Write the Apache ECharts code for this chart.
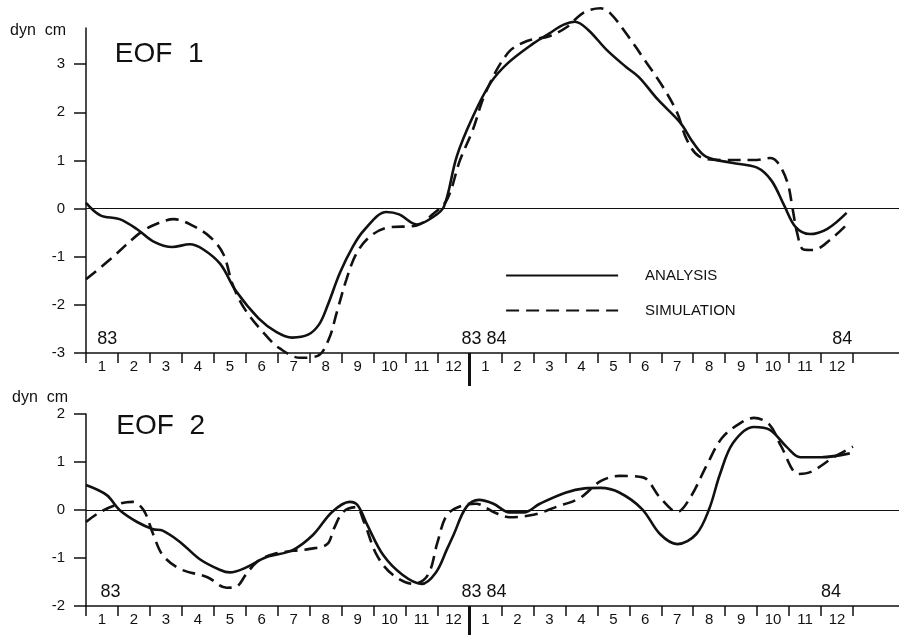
<!DOCTYPE html>
<html>
<head>
<meta charset="utf-8">
<script src="https://cdn.jsdelivr.net/npm/echarts@6/dist/echarts.min.js"></script>
<style>
html,body{margin:0;padding:0;background:#fff;}
#chart{width:899px;height:635px;}
</style>
</head>
<body>
<div id="chart"></div>
<script>
// ---- data (x = months since Jan 1983, y = dyn cm) ----
var monthLabels = ['1','2','3','4','5','6','7','8','9','10','11','12','1','2','3','4','5','6','7','8','9','10','11','12'];
var yearLabelsLeft = '83';
var yearLabelsMid = '83 84';
var yearLabelsRight = '84';
var eof1Ticks = [-3, -2, -1, 0, 1, 2, 3];
var eof2Ticks = [-2, -1, 0, 1, 2];
var seriesNames = ['ANALYSIS', 'SIMULATION'];

var eof1Analysis = [[0,0.12],[0.45,-0.14],[1.05,-0.22],[1.6,-0.43],[2.1,-0.68],[2.7,-0.8],[3.25,-0.74],[3.65,-0.84],[4.2,-1.15],[4.7,-1.72],[5.4,-2.28],[5.95,-2.56],[6.45,-2.68],[6.95,-2.62],[7.3,-2.4],[7.55,-2.03],[7.95,-1.33],[8.35,-0.79],[8.7,-0.45],[9.4,-0.07],[9.8,-0.12],[10.35,-0.33],[10.85,-0.18],[11.2,0.04],[11.6,1.08],[12.1,1.9],[12.65,2.6],[13.2,3.02],[14.0,3.43],[14.5,3.64],[14.95,3.82],[15.3,3.88],[15.7,3.72],[16.3,3.29],[16.9,2.94],[17.3,2.73],[17.9,2.26],[18.6,1.78],[19.0,1.37],[19.4,1.08],[20.2,0.95],[21.0,0.85],[21.45,0.58],[21.85,0.06],[22.2,-0.38],[22.65,-0.53],[23.2,-0.42],[23.8,-0.09]];
var eof1Simulation = [[0,-1.47],[0.75,-1.06],[1.7,-0.5],[2.2,-0.32],[2.75,-0.22],[3.35,-0.36],[3.9,-0.6],[4.3,-0.95],[4.6,-1.6],[5.0,-2.12],[5.65,-2.65],[6.05,-2.9],[6.7,-3.1],[7.25,-3.06],[7.6,-2.71],[7.85,-2.15],[8.15,-1.47],[8.45,-0.95],[8.85,-0.6],[9.4,-0.4],[10.35,-0.35],[10.85,-0.12],[11.3,0.19],[11.7,1.0],[12.1,1.63],[12.5,2.4],[13.2,3.23],[13.8,3.48],[14.5,3.58],[15.05,3.77],[15.55,4.06],[16.1,4.16],[16.4,4.06],[16.9,3.64],[17.55,3.02],[18.05,2.53],[18.5,1.99],[18.8,1.43],[19.2,1.08],[19.9,1.01],[21.0,1.01],[21.4,1.05],[21.65,0.95],[21.95,0.54],[22.1,0.04],[22.25,-0.5],[22.45,-0.85],[22.75,-0.86],[23.3,-0.64],[23.9,-0.27]];
var eof2Analysis = [[0,0.52],[0.65,0.31],[1.05,0.0],[1.6,-0.25],[2.1,-0.4],[2.4,-0.43],[2.95,-0.67],[3.55,-1.02],[4.2,-1.25],[4.5,-1.3],[5.0,-1.2],[5.65,-0.98],[6.45,-0.84],[7.1,-0.52],[7.7,-0.04],[8.25,0.17],[8.5,0.1],[8.8,-0.31],[9.3,-0.94],[9.9,-1.35],[10.5,-1.54],[10.95,-1.3],[11.3,-0.81],[11.5,-0.52],[11.9,0.06],[12.3,0.21],[12.75,0.13],[13.25,-0.05],[13.7,-0.05],[14.2,0.13],[15.0,0.36],[15.6,0.45],[16.1,0.46],[16.7,0.36],[17.4,0.02],[17.96,-0.5],[18.5,-0.71],[19.1,-0.5],[19.5,0.02],[19.84,0.75],[20.25,1.4],[20.9,1.73],[21.4,1.67],[21.93,1.31],[22.35,1.1],[23.0,1.1],[23.9,1.18]];
var eof2Simulation = [[0,-0.25],[0.45,-0.04],[1.05,0.13],[1.45,0.17],[1.8,0.0],[2.1,-0.5],[2.4,-0.94],[2.95,-1.23],[3.8,-1.4],[4.4,-1.62],[4.7,-1.6],[5.0,-1.35],[5.35,-1.08],[5.85,-0.92],[6.5,-0.85],[7.0,-0.81],[7.55,-0.71],[7.75,-0.4],[8.05,-0.04],[8.45,0.06],[8.7,-0.25],[9.1,-0.94],[9.6,-1.35],[10.25,-1.54],[10.7,-1.35],[11.0,-0.67],[11.3,-0.1],[11.8,0.1],[12.2,0.13],[12.75,-0.04],[13.25,-0.15],[14.0,-0.1],[14.7,0.06],[15.45,0.25],[16.1,0.6],[16.7,0.71],[17.43,0.68],[17.96,0.26],[18.5,-0.04],[18.9,0.25],[19.43,0.94],[19.9,1.5],[20.45,1.8],[20.9,1.92],[21.4,1.77],[21.75,1.33],[22.3,0.75],[22.7,0.8],[23.4,1.1],[24.0,1.32]];

// ---- chart ----
var FONT = 'Liberation Sans';
var INK = '#111';
var xMax = 25.44;
var chart = echarts.init(document.getElementById('chart'), null, {renderer: 'canvas'});

function valueX(grid) {
  return {type: 'value', gridIndex: grid, min: 0, max: xMax,
    axisLine: {show: true, onZero: false, lineStyle: {color: INK, width: 1.5}},
    axisTick: {show: false}, axisLabel: {show: false}, splitLine: {show: false}};
}
function monthX(grid) {
  return {type: 'category', gridIndex: grid, data: monthLabels, boundaryGap: true, position: 'bottom',
    axisLine: {show: false},
    axisTick: {show: true, length: 10, interval: 0, lineStyle: {color: INK, width: 1.5}},
    axisLabel: {show: true, interval: 0, margin: 6, color: INK, fontFamily: FONT, fontSize: 15},
    splitLine: {show: false}};
}
function valueY(grid, min, max, ticks) {
  return {type: 'value', gridIndex: grid, min: min, max: max,
    axisLine: {show: true, lineStyle: {color: INK, width: 1.5}},
    axisTick: {show: true, length: 12, customValues: ticks, lineStyle: {color: INK, width: 1.5}},
    axisLabel: {show: true, customValues: ticks, margin: 21, color: INK, fontFamily: FONT, fontSize: 15},
    splitLine: {show: false}};
}
function hiddenY(grid) {
  return {type: 'value', gridIndex: grid, min: 0, max: 1, show: false};
}
function lineSeries(name, data, xi, yi, dashed, zero) {
  var s = {type: 'line', name: name, data: data, xAxisIndex: xi, yAxisIndex: yi,
    smooth: 0.35, symbol: 'none', clip: false, silent: true,
    lineStyle: {color: INK, width: 2.6, type: dashed ? [13, 7] : 'solid'},
    itemStyle: {color: INK}};
  if (zero) {
    s.markLine = {silent: true, symbol: 'none', label: {show: false},
      lineStyle: {color: INK, width: 1.2, type: 'solid'}, data: [{yAxis: 0}]};
  }
  return s;
}

var option = {
  backgroundColor: '#fff',
  animation: false,
  textStyle: {fontFamily: FONT},
  grid: [
    {left: 86, right: 0, top: 28, height: 325, outerBoundsMode: 'none'},
    {left: 86, right: 0, top: 414, height: 192, outerBoundsMode: 'none'},
    {left: 86, width: 767, top: 28, height: 325, outerBoundsMode: 'none'},
    {left: 86, width: 767, top: 414, height: 192, outerBoundsMode: 'none'}
  ],
  xAxis: [valueX(0), valueX(1), monthX(2), monthX(3)],
  yAxis: [valueY(0, -3, 3.75, eof1Ticks), valueY(1, -2, 2, eof2Ticks), hiddenY(2), hiddenY(3)],
  legend: {
    show: true, orient: 'vertical', left: 500, top: 263, itemWidth: 112, itemHeight: 14, itemGap: 20,
    data: seriesNames, selectedMode: false,
    itemStyle: {color: 'rgba(0,0,0,0)', borderWidth: 0, opacity: 0},
    lineStyle: {width: 2.2},
    textStyle: {color: INK, fontFamily: FONT, fontSize: 15, padding: [0, 0, 0, 22]}
  },
  series: [
    lineSeries(seriesNames[0], eof1Analysis, 0, 0, false, true),
    lineSeries(seriesNames[1], eof1Simulation, 0, 0, true, false),
    lineSeries(seriesNames[0], eof2Analysis, 1, 1, false, true),
    lineSeries(seriesNames[1], eof2Simulation, 1, 1, true, false)
  ]
};
chart.setOption(option);

// annotations placed via the axes
function px(xi, yi, x, y) { return chart.convertToPixel({xAxisIndex: xi, yAxisIndex: yi}, [x, y]); }
var sepTop1 = px(0, 0, 12, -3), sepTop2 = px(1, 1, 12, -2);
var txt = {fill: INK, fontFamily: FONT};
function text(x, y, s, size, align) {
  return {type: 'text', x: x, y: y, silent: true,
    style: Object.assign({text: s, fontSize: size, textAlign: align || 'left', textVerticalAlign: 'middle'}, txt)};
}
var p83a = px(0, 0, 0.35, -2.7), p8384a = px(0, 0, 11.75, -2.7), p84a = px(0, 0, 23.35, -2.7);
var p83b = px(1, 1, 0.45, -1.7), p8384b = px(1, 1, 11.75, -1.7), p84b = px(1, 1, 23.0, -1.7);
var pEof1 = px(0, 0, 0.9, 3.2), pEof2 = px(1, 1, 0.95, 1.75);
chart.setOption({
  graphic: [
    {type: 'line', silent: true, shape: {x1: sepTop1[0], y1: sepTop1[1], x2: sepTop1[0], y2: sepTop1[1] + 33}, style: {stroke: INK, lineWidth: 3}},
    {type: 'line', silent: true, shape: {x1: sepTop2[0], y1: sepTop2[1], x2: sepTop2[0], y2: sepTop2[1] + 30}, style: {stroke: INK, lineWidth: 3}},
    text(10, 31, 'dyn  cm', 16),
    text(12, 398, 'dyn  cm', 16),
    text(pEof1[0], pEof1[1], 'EOF  1', 28),
    text(pEof2[0], pEof2[1], 'EOF  2', 28),
    text(p83a[0], p83a[1], yearLabelsLeft, 18),
    text(p8384a[0], p8384a[1], yearLabelsMid, 18),
    text(p84a[0], p84a[1], yearLabelsRight, 18),
    text(p83b[0], p83b[1], yearLabelsLeft, 18),
    text(p8384b[0], p8384b[1], yearLabelsMid, 18),
    text(p84b[0], p84b[1], yearLabelsRight, 18)
  ]
});
</script>
</body>
</html>
